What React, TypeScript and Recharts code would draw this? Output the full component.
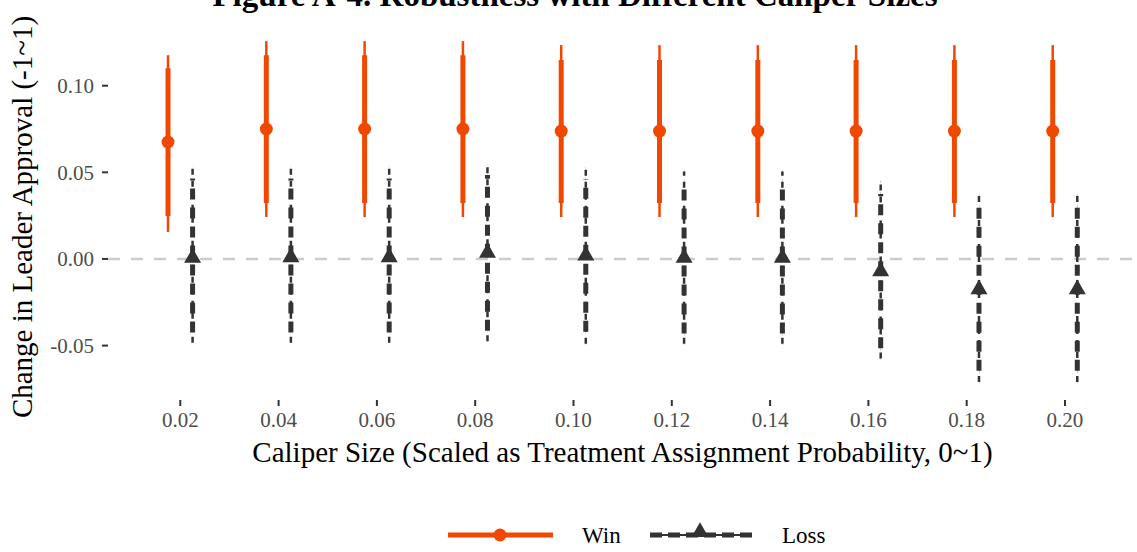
import { ScatterChart, Scatter, XAxis, YAxis, ErrorBar, ReferenceLine, Legend } from 'recharts'

// caliper sizes on the x axis
const calipers = [0.02, 0.04, 0.06, 0.08, 0.1, 0.12, 0.14, 0.16, 0.18, 0.2]
const yTicks = [-0.05, 0, 0.05, 0.1]

// Win: point estimate, 90% (thick) and 95% (thin) intervals
const winEst = [0.0675, 0.075, 0.075, 0.075, 0.0738, 0.0738, 0.0738, 0.0738, 0.0738, 0.0738]
const winLo90 = [0.0248, 0.0323, 0.0323, 0.0323, 0.0323, 0.0323, 0.0323, 0.0323, 0.0323, 0.0323]
const winHi90 = [0.11, 0.1176, 0.1176, 0.1176, 0.1148, 0.1148, 0.1148, 0.1148, 0.1148, 0.1148]
const winLo95 = [0.0156, 0.0242, 0.0242, 0.0242, 0.0242, 0.0242, 0.0242, 0.0242, 0.0242, 0.0242]
const winHi95 = [0.1176, 0.1257, 0.1257, 0.1257, 0.1234, 0.1234, 0.1234, 0.1234, 0.1234, 0.1234]

// Loss
const lossEst = [0.0006, 0.001, 0.001, 0.0035, 0.002, 0.0006, 0.0006, -0.0072, -0.0175, -0.0175]
const lossLo90 = [-0.0425, -0.0425, -0.0425, -0.0415, -0.042, -0.043, -0.043, -0.0515, -0.0645, -0.0645]
const lossHi90 = [0.0465, 0.0465, 0.0465, 0.0485, 0.046, 0.0445, 0.0445, 0.0375, 0.0295, 0.0295]
const lossLo95 = [-0.0484, -0.0484, -0.0484, -0.0475, -0.049, -0.049, -0.049, -0.0575, -0.071, -0.071]
const lossHi95 = [0.053, 0.053, 0.053, 0.0545, 0.0525, 0.0505, 0.0505, 0.0445, 0.0365, 0.0365]

const WIN = '#F04800'
const LOSS = '#333333'
const DODGE = 0.0025
const FONT = '"Liberation Serif", "Times New Roman", serif'

const winData = calipers.map((c, i) => ({
  x: c - DODGE,
  y: winEst[i],
  ci90: [winEst[i] - winLo90[i], winHi90[i] - winEst[i]],
  ci95: [winEst[i] - winLo95[i], winHi95[i] - winEst[i]],
}))

const lossData = calipers.map((c, i) => ({
  x: c + DODGE,
  y: lossEst[i],
  ci90: [lossEst[i] - lossLo90[i], lossHi90[i] - lossEst[i]],
  ci95: [lossEst[i] - lossLo95[i], lossHi95[i] - lossEst[i]],
}))

function triPath(cx: number, cy: number, s: number) {
  const h = (s * Math.sqrt(3)) / 2
  return `M${cx},${cy - (2 * h) / 3} L${cx + s / 2},${cy + h / 3} L${cx - s / 2},${cy + h / 3} Z`
}

const WinDot = (p: any) => <circle cx={p.cx} cy={p.cy} r={6.5} fill={WIN} />
const LossTri = (p: any) => <path d={triPath(p.cx, p.cy, 17)} fill={LOSS} />

function renderLegend() {
  return (
    <svg width={1137} height={40} style={{ display: 'block' }}>
      <line x1={448} x2={553} y1={20} y2={20} stroke={WIN} strokeWidth={5} />
      <circle cx={500} cy={20} r={6.5} fill={WIN} />
      <text x={582} y={28} fontSize={23} fontFamily={FONT} fill="#000">Win</text>
      <line x1={650} x2={752} y1={20} y2={20} stroke={LOSS} strokeWidth={2} />
      <line x1={650} x2={752} y1={20} y2={20} stroke={LOSS} strokeWidth={5} strokeDasharray="12 6" />
      <path d={triPath(700, 17, 17)} fill={LOSS} />
      <text x={782} y={28} fontSize={23} fontFamily={FONT} fill="#000">Loss</text>
    </svg>
  )
}

export default function App() {
  return (
    <div style={{ position: 'absolute', left: 0, top: 0, width: 1137, height: 552, overflow: 'hidden', background: '#fff', fontFamily: FONT }}>
      <div
        style={{
          position: 'absolute',
          top: -21,
          left: 0,
          width: 1150,
          textAlign: 'center',
          fontSize: 33,
          lineHeight: '33px',
          fontWeight: 'bold',
          color: '#000',
          whiteSpace: 'nowrap',
        }}
      >
        Figure A-4. Robustness with Different Caliper Sizes
      </div>
      <ScatterChart width={1137} height={552} margin={{ top: 24, right: 0, left: 0, bottom: 42 }}>
        <XAxis
          type="number"
          dataKey="x"
          domain={[0.00529, 0.21465]}
          allowDataOverflow
          ticks={calipers}
          tickFormatter={(v: number) => v.toFixed(2)}
          axisLine={false}
          tickLine={{ stroke: LOSS, strokeWidth: 2 }}
          tickSize={6}
          tickMargin={6}
          height={70}
          tick={{ fontFamily: FONT, fontSize: 21, fill: '#4D4D4D' }}
          label={{
            content: (props: any) => {
              const vb = props.viewBox
              return (
                <text x={vb.x + vb.width / 2} y={vb.y + 62} textAnchor="middle" fontSize={29} fontFamily={FONT} fill="#000">
                  Caliper Size (Scaled as Treatment Assignment Probability, 0~1)
                </text>
              )
            },
          }}
        />
        <YAxis
          type="number"
          dataKey="y"
          domain={[-0.0814, 0.1356]}
          allowDataOverflow
          ticks={yTicks}
          tickFormatter={(v: number) => v.toFixed(2)}
          axisLine={false}
          tickLine={{ stroke: LOSS, strokeWidth: 2 }}
          tickSize={6}
          tickMargin={8}
          width={108}
          tick={{ fontFamily: FONT, fontSize: 21, fill: '#4D4D4D' }}
          label={{
            content: (props: any) => {
              const vb = props.viewBox
              const cy = vb.y + vb.height / 2 + 5
              return (
                <text x={32} y={cy} transform={`rotate(-90, 32, ${cy})`} textAnchor="middle" fontSize={29} fontFamily={FONT} fill="#000">
                  Change in Leader Approval (-1~1)
                </text>
              )
            },
          }}
        />
        <ReferenceLine y={0} stroke="#CCCCCC" strokeWidth={2.5} strokeDasharray="12 11" />
        <Scatter name="Win" data={winData} fill={WIN} shape={WinDot} isAnimationActive={false}>
          <ErrorBar dataKey="ci95" direction="y" width={0} stroke={WIN} strokeWidth={2.5} isAnimationActive={false} />
          <ErrorBar dataKey="ci90" direction="y" width={0} stroke={WIN} strokeWidth={5} isAnimationActive={false} />
        </Scatter>
        <Scatter name="Loss" data={lossData} fill={LOSS} shape={LossTri} isAnimationActive={false}>
          <ErrorBar dataKey="ci95" direction="y" width={0} stroke={LOSS} strokeWidth={2.5} strokeDasharray="6 6" isAnimationActive={false} />
          <ErrorBar dataKey="ci90" direction="y" width={0} stroke={LOSS} strokeWidth={5} strokeDasharray="11 8" isAnimationActive={false} />
        </Scatter>
        <Legend
          verticalAlign="bottom"
          height={40}
          content={renderLegend}
          wrapperStyle={{ top: 515, left: 0, bottom: 'auto', width: 1137, height: 40 }}
        />
      </ScatterChart>
    </div>
  )
}
